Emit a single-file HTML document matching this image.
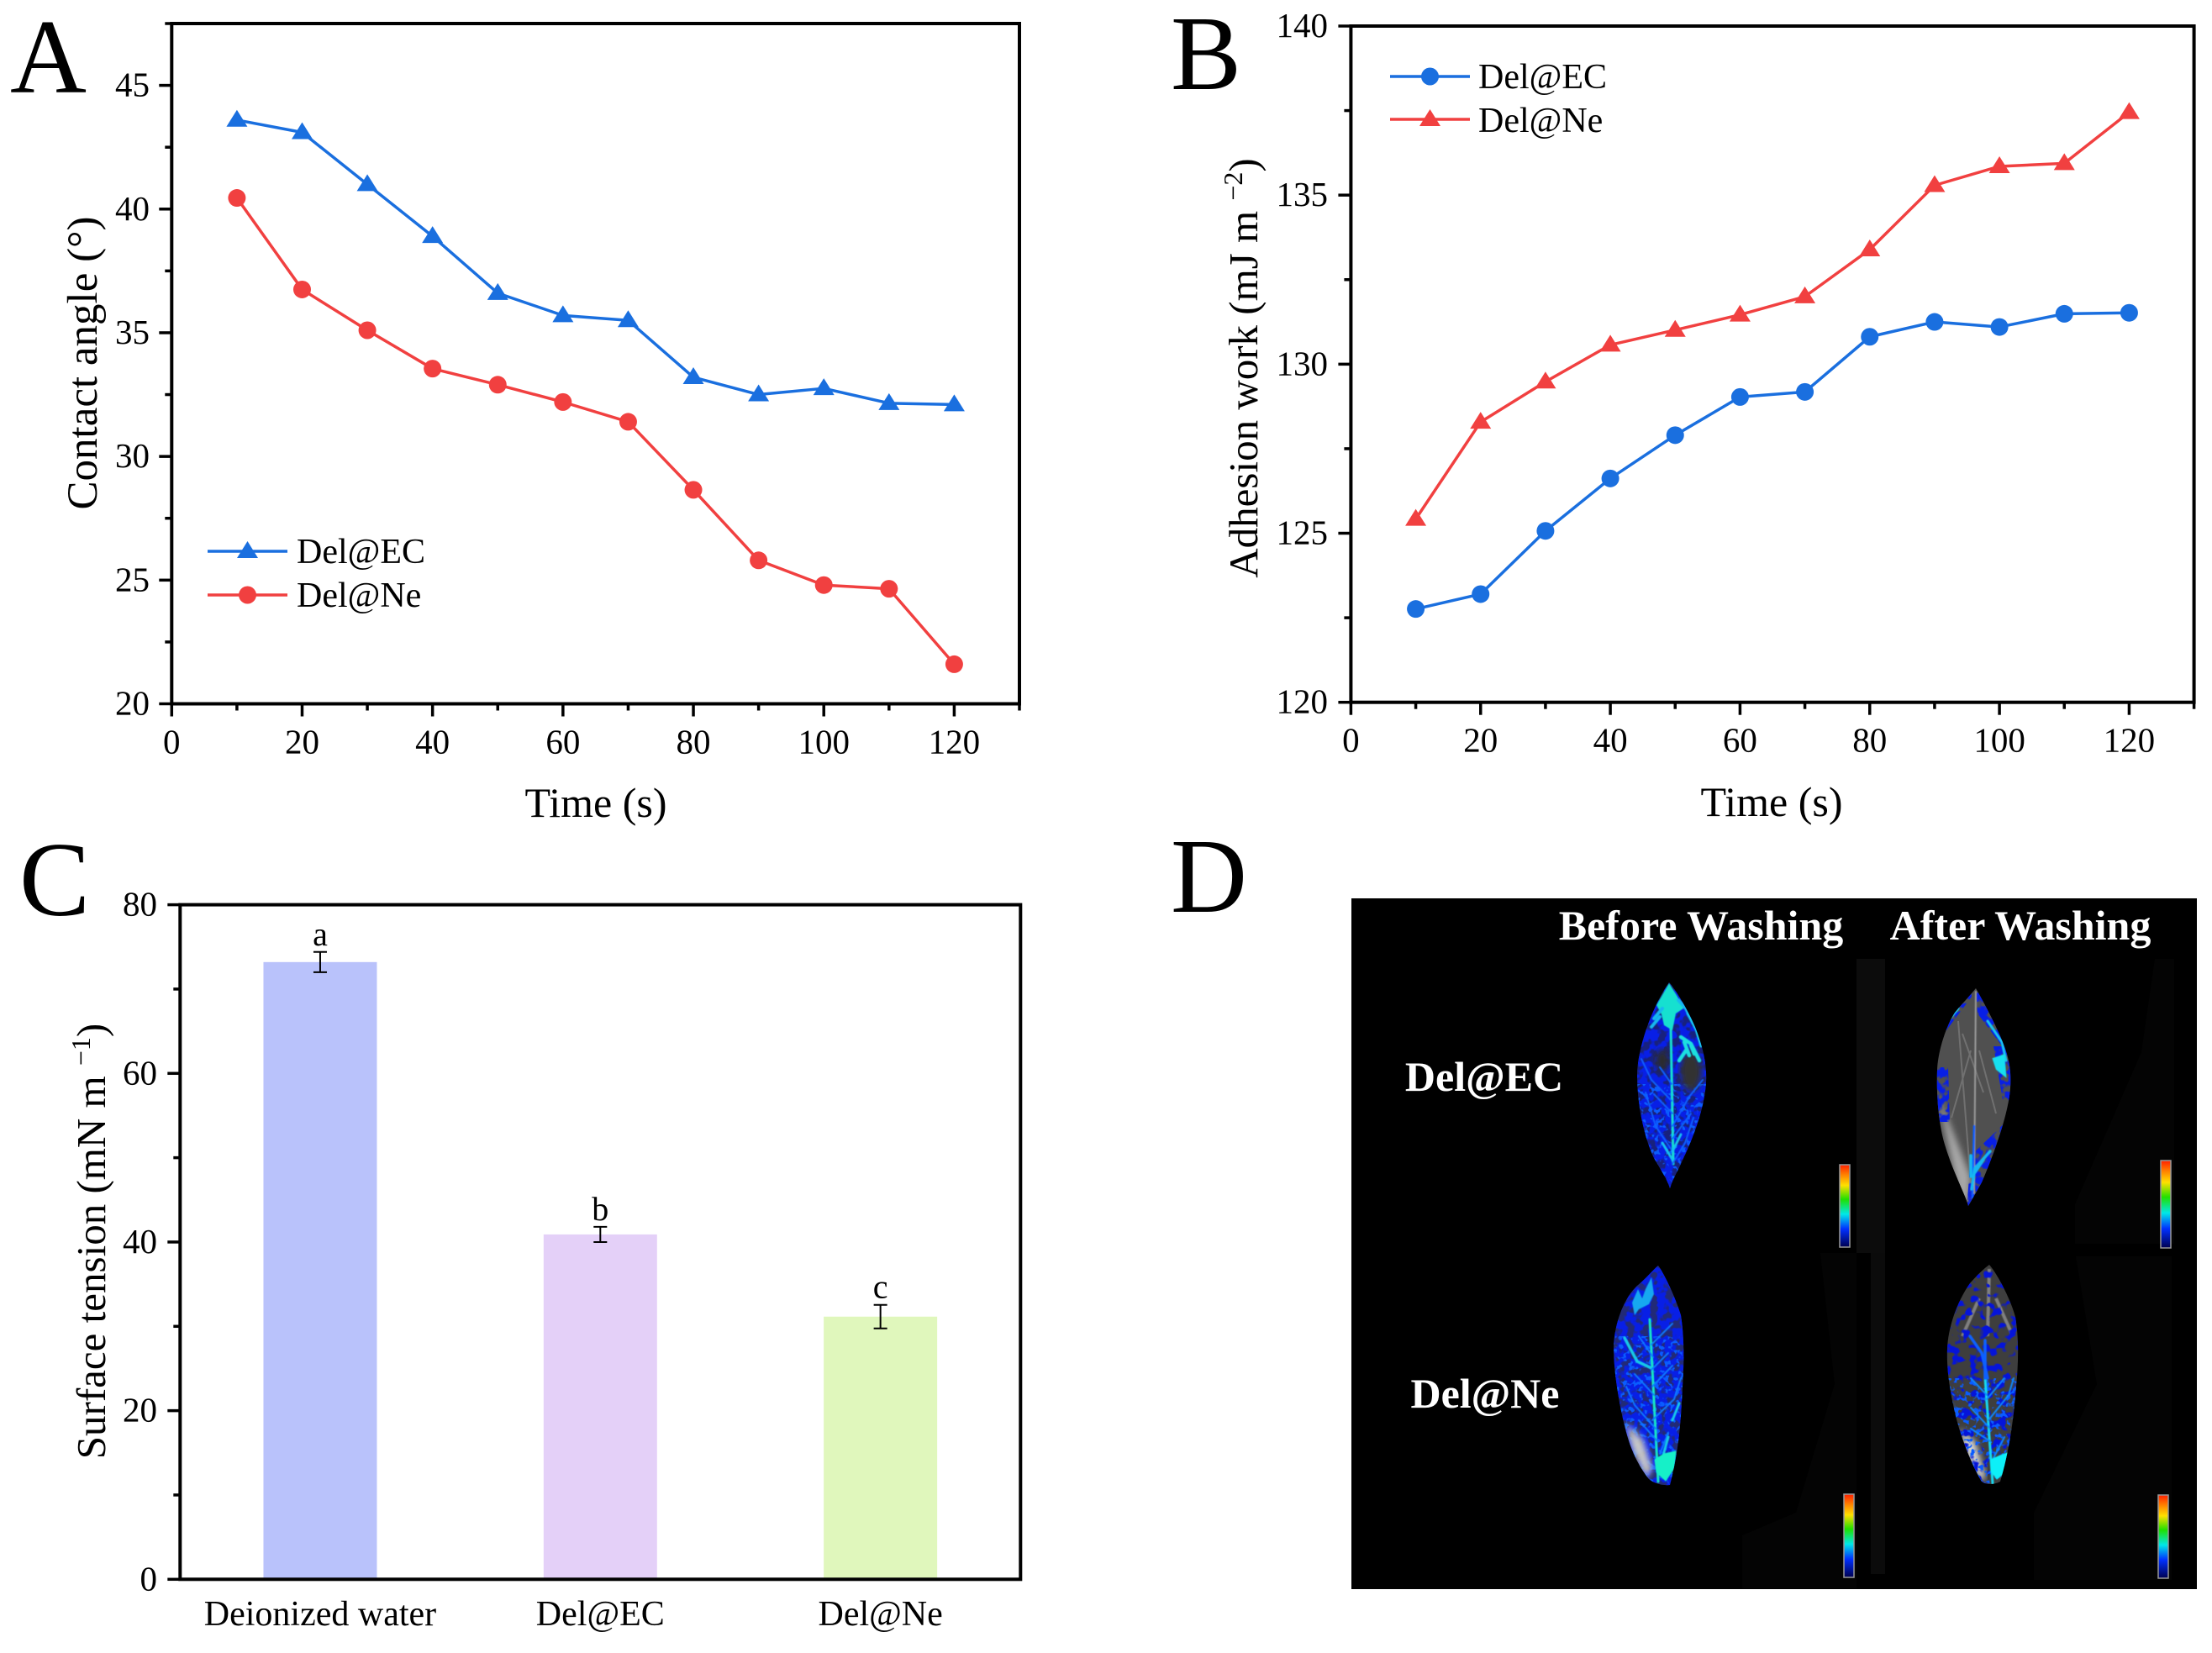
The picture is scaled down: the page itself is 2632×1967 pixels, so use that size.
<!DOCTYPE html>
<html lang="en">
<head>
<meta charset="utf-8">
<title>Contact angle, adhesion work, surface tension and leaf imaging</title>
<style>
html,body{margin:0;padding:0;background:#fff;}
svg{display:block;}
text{font-family:"Liberation Serif",serif;fill:#000;}
.w{fill:#fff;font-weight:bold;font-size:50px;text-anchor:middle;}
</style>
</head>
<body>
<svg id="fig" xmlns="http://www.w3.org/2000/svg" width="2632" height="1967" viewBox="0 0 2632 1967">
<defs>
<linearGradient id="cbar" x1="0" y1="0" x2="0" y2="1">
<stop offset="0" stop-color="#ff2000"/><stop offset=".12" stop-color="#ff8000"/><stop offset=".25" stop-color="#ffe000"/><stop offset=".42" stop-color="#20e000"/><stop offset=".6" stop-color="#00e8e8"/><stop offset=".78" stop-color="#0030ff"/><stop offset="1" stop-color="#000050"/>
</linearGradient>
<filter id="noise" x="0" y="0" width="100%" height="100%" color-interpolation-filters="sRGB">
<feTurbulence type="fractalNoise" baseFrequency="0.11" numOctaves="2" seed="4"/>
<feColorMatrix type="matrix" values="0 0 0 0 0.03  0 0 0 0 0.12  0 0 0 0 0.9  7 0 0 0 -2.7"/>
</filter>
<filter id="noiseThin" x="0" y="0" width="100%" height="100%" color-interpolation-filters="sRGB">
<feTurbulence type="fractalNoise" baseFrequency="0.09" numOctaves="2" seed="11"/>
<feColorMatrix type="matrix" values="0 0 0 0 0.02  0 0 0 0 0.08  0 0 0 0 0.85  9 0 0 0 -4.7"/>
</filter>
<filter id="noiseBright" x="0" y="0" width="100%" height="100%" color-interpolation-filters="sRGB">
<feTurbulence type="fractalNoise" baseFrequency="0.16" numOctaves="2" seed="7"/>
<feColorMatrix type="matrix" values="0 0 0 0 0.04  0 0 0 0 0.36  0 0 0 0 1  9 0 0 0 -5"/>
</filter>
<filter id="soft"><feGaussianBlur stdDeviation="4"/></filter>
<filter id="soft1"><feGaussianBlur stdDeviation="0.6"/></filter>
<clipPath id="leaf1"><path d="M1986,1169 C1996,1180 2014,1212 2020,1230 C2027,1250 2031,1268 2030,1288 C2028,1322 2012,1360 2000,1385 C1995,1396 1990,1404 1987,1414 C1984,1404 1976,1392 1968,1378 C1955,1350 1948,1312 1948,1278 C1949,1245 1966,1198 1986,1169 Z"/></clipPath>
<clipPath id="leaf2"><path d="M2351,1176 C2360,1192 2378,1225 2386,1248 C2392,1265 2393,1280 2392,1295 C2390,1325 2372,1375 2358,1407 C2352,1418 2346,1428 2342,1435 C2340,1425 2324,1395 2314,1362 C2306,1335 2304,1300 2305,1273 C2306,1250 2316,1220 2326,1205 C2334,1195 2344,1185 2351,1176 Z"/></clipPath>
<clipPath id="leaf3"><path d="M1973,1506 C1980,1515 1994,1545 2000,1565 C2004,1590 2004,1620 2002,1650 C2000,1690 1998,1725 1987,1767 C1978,1768 1968,1765 1962,1760 C1950,1745 1940,1725 1934,1700 C1926,1670 1920,1630 1920,1603 C1921,1575 1932,1545 1948,1530 C1958,1522 1966,1512 1973,1506 Z"/></clipPath>
<clipPath id="leaf4"><path d="M2367,1505 C2376,1515 2392,1545 2398,1567 C2402,1590 2402,1620 2399,1650 C2396,1690 2390,1730 2380,1763 C2372,1767 2364,1767 2358,1763 C2350,1750 2336,1720 2327,1685 C2320,1655 2316,1630 2317,1605 C2318,1580 2328,1550 2344,1527 C2352,1518 2360,1510 2367,1505 Z"/></clipPath>
<clipPath id="leaf2a"><path d="M2300,1270 h18 l2,65 l-20,0 Z M2345,1375 L2392,1330 L2375,1380 L2340,1440 Z M2372,1245 h24 v70 h-12 Z M2351,1176 l40,70 l-8,0 l-30,-40 Z M2345,1176 l-35,50 l6,0 l30,-40 Z"/></clipPath>
</defs>

<rect x="0" y="0" width="2632" height="1967" fill="#fff"/>

<g id="panel-a"></g>
<g id="panel-b"></g>
<g id="panel-c"></g>

<text x="12" y="110" font-size="126">A</text>
<text x="1393" y="106" font-size="126">B</text>
<text x="23" y="1089" font-size="126">C</text>
<text x="1393" y="1085" font-size="126">D</text>

<g>
<rect x="1608" y="1069" width="1006" height="822" fill="#000"/>
<g>
<rect x="2209" y="1141" width="34" height="350" fill="#0c0c0c"/>
<rect x="2226" y="1491" width="17" height="382" fill="#0b0b0b"/>
<polygon points="2166,1491 2209,1491 2209,1890 2073,1890 2073,1827 2137,1800 2183,1647" fill="#040404"/>
<polygon points="2564,1141 2587,1141 2587,1480 2469,1480 2469,1433 2548,1252" fill="#040404"/>
<polygon points="2470,1495 2584,1495 2584,1880 2420,1880 2420,1800 2495,1647" fill="#040404"/>
</g>

<g clip-path="url(#leaf1)">
<rect x="1940" y="1160" width="100" height="260" fill="#2e2e2e"/>
<rect x="1940" y="1160" width="100" height="260" fill="#0718c0" opacity=".55"/>
<rect x="1940" y="1160" width="100" height="260" filter="url(#noise)"/>
<rect x="1940" y="1290" width="100" height="130" filter="url(#noiseBright)"/>
<ellipse cx="2012" cy="1275" rx="13" ry="24" fill="#333" filter="url(#soft)"/>
<ellipse cx="1978" cy="1262" rx="9" ry="14" fill="#2a2a2a" filter="url(#soft)"/>
<g filter="url(#soft1)" fill="none" stroke-linecap="round">
<path d="M1986,1170 L1996,1186 L2003,1200 L1994,1206 L1990,1226 L1980,1220 L1977,1207 L1971,1196 Z" fill="#16e0d0"/>
<path d="M1997,1190 L2006,1200 L2012,1212 M1975,1210 L1965,1222 M1978,1200 L1968,1212" stroke="#12b8f0" stroke-width="4"/>
<path d="M2008,1206 L2018,1225 L2024,1245" stroke="#12c8f0" stroke-width="3"/>
<path d="M2000,1234 L2012,1242 L2022,1262 M2006,1250 L1998,1262 M2012,1244 L2016,1254 M2004,1240 L2010,1256" stroke="#1adfe0" stroke-width="4.5"/>
<path d="M1988,1222 L1991,1385" stroke="#16e0d0" stroke-width="3"/>
<path d="M1990,1385 L2005,1360 L2015,1330 M1990,1370 L1970,1340 L1958,1300 M1990,1340 L2010,1305 L2026,1285 M1989,1310 L1965,1285 L1953,1260 M1989,1290 L1975,1270 M1990,1355 L2012,1325 M1990,1325 L1968,1302" stroke="#0f60ff" stroke-width="2"/>
<path d="M1990,1380 L1978,1360 M1990,1370 L2000,1350" stroke="#18c0f0" stroke-width="3"/>
</g>
</g>

<g clip-path="url(#leaf2)">
<rect x="2300" y="1170" width="100" height="270" fill="#505050"/>
<path d="M2305,1300 L2330,1420 L2342,1435 L2345,1400 Z" fill="#a8a8a8" filter="url(#soft)"/>
<path d="M2330,1215 L2344,1395 M2345,1250 L2322,1330 M2355,1250 L2375,1325 M2335,1230 L2360,1300" stroke="#707070" stroke-width="2" fill="none"/>
<rect x="2300" y="1170" width="100" height="270" filter="url(#noise)" clip-path="url(#leaf2a)"/>
<g filter="url(#soft1)" fill="none" stroke-linecap="round">
<path d="M2351,1180 L2349,1420" stroke="#9a9a9a" stroke-width="2"/>
<path d="M2349,1340 L2347,1425" stroke="#1060ff" stroke-width="2.5"/>
<path d="M2312,1222 L2330,1200" stroke="#18c8f0" stroke-width="3"/>
<path d="M2365,1215 L2382,1240 L2387,1262" stroke="#18c8f0" stroke-width="3"/>
<path d="M2372,1260 L2384,1256 L2386,1280 L2376,1272 Z" fill="#18e0f0" stroke="#18e0f0" stroke-width="2.5"/>
<path d="M2346,1415 L2350,1390 L2368,1370 M2350,1395 L2360,1380 M2345,1400 L2345,1375" stroke="#18b8f0" stroke-width="3.5"/>
</g>
</g>

<g clip-path="url(#leaf3)">
<rect x="1915" y="1500" width="95" height="275" fill="#3a3a3a"/>
<rect x="1915" y="1500" width="95" height="275" fill="#0718c0" opacity=".45"/>
<rect x="1915" y="1500" width="95" height="275" filter="url(#noise)"/>
<rect x="1915" y="1590" width="95" height="180" filter="url(#noiseBright)"/>
<polygon points="1934,1693 1955,1713 1966,1747 1959,1760 1941,1723" fill="#c8c8c8" filter="url(#soft)"/>
<g filter="url(#soft1)" fill="none" stroke-linecap="round">
<path d="M1949,1534 L1954,1545 L1958,1534 L1965,1520 L1968,1540 L1962,1552 L1950,1558 L1945,1565 L1942,1550 Z" fill="#14a8f0"/>
<path d="M1963,1570 L1973,1763" stroke="#14e6c8" stroke-width="3"/>
<path d="M1933,1592 L1948,1620 L1965,1628" stroke="#14c8e8" stroke-width="3.5"/>
<path d="M1966,1650 L1990,1625 M1966,1690 L1992,1665 L2000,1640 M1968,1660 L1945,1635 M1970,1700 L1945,1672 L1935,1650 M1967,1615 L1950,1590 M1965,1600 L1990,1575 M1975,1730 L1985,1705 M1965,1630 L1985,1610 M1972,1715 L1950,1690" stroke="#0f78ff" stroke-width="2"/>
<path d="M1978,1735 L1985,1710 M1990,1690 L1998,1670" stroke="#12c8e8" stroke-width="3"/>
<path d="M1969,1737 L1980,1730 L1994,1727 L1992,1747 L1982,1762 L1971,1752 Z" fill="#14f0c8" stroke="#14f0c8"/>
</g>
</g>

<g clip-path="url(#leaf4)">
<rect x="2310" y="1500" width="100" height="275" fill="#3e3e3e"/>
<path d="M2367,1510 L2365,1590 M2355,1545 L2335,1590 M2375,1545 L2395,1590" stroke="#808080" stroke-width="4" fill="none" filter="url(#soft1)"/>
<polygon points="2332,1700 2350,1715 2362,1755 2358,1765 2339,1730" fill="#d8d8d8" filter="url(#soft)"/>
<rect x="2310" y="1500" width="100" height="275" filter="url(#noiseThin)"/>
<rect x="2310" y="1640" width="100" height="130" filter="url(#noiseBright)"/>
<g filter="url(#soft1)" fill="none" stroke-linecap="round">
<path d="M2362,1640 L2371,1765" stroke="#12d8f0" stroke-width="3"/>
<path d="M2362,1595 L2362,1640 M2365,1640 L2358,1610 L2344,1590" stroke="#1060ff" stroke-width="3.5"/>
<path d="M2366,1690 L2390,1660 L2396,1640 M2368,1700 L2345,1675 M2364,1660 L2345,1640 M2364,1665 L2385,1640 M2372,1735 L2385,1710 M2368,1715 L2345,1700" stroke="#0f88ff" stroke-width="2"/>
<path d="M2369,1737 L2380,1732 L2391,1728 L2388,1750 L2376,1760 L2369,1750 Z" fill="#10f0f8" stroke="#10f0f8"/>
</g>
</g>

<g>
<rect x="2189" y="1386" width="12" height="98" fill="url(#cbar)" stroke="#999" stroke-width="1.5"/>
<rect x="2571" y="1381" width="12" height="104" fill="url(#cbar)" stroke="#999" stroke-width="1.5"/>
<rect x="2194" y="1778" width="12" height="99" fill="url(#cbar)" stroke="#999" stroke-width="1.5"/>
<rect x="2568" y="1779" width="12" height="99" fill="url(#cbar)" stroke="#999" stroke-width="1.5"/>
</g>

<text class="w" x="2024" y="1118">Before Washing</text>
<text class="w" x="2404" y="1118">After Washing</text>
<text class="w" x="1766" y="1298">Del@EC</text>
<text class="w" x="1767" y="1675">Del@Ne</text>
</g>
</svg>

<script>
// ---- chart data ----
const timeValues = [10,20,30,40,50,60,70,80,90,100,110,120];
const contactAngleEC = [43.6,43.1,41.0,38.9,36.6,35.7,35.5,33.2,32.5,32.75,32.15,32.1];
const contactAngleNe = [40.45,36.75,35.1,33.55,32.9,32.2,31.4,28.65,25.8,24.8,24.65,21.6];
const adhesionEC = [122.76,123.2,125.07,126.62,127.9,129.03,129.18,130.81,131.25,131.1,131.49,131.52];
const adhesionNe = [125.42,128.29,129.48,130.57,131.01,131.46,132.0,133.39,135.29,135.85,135.94,137.45];
const timeMajorTicks = [0,20,40,60,80,100,120];
const timeMinorTicks = [10,30,50,70,90,110,130];
const angleMajorTicks = [20,25,30,35,40,45];
const angleMinorTicks = [22.5,27.5,32.5,37.5,42.5,47.5];
const workMajorTicks = [120,125,130,135,140];
const workMinorTicks = [122.5,127.5,132.5,137.5];
const barCategories = ["Deionized water","Del@EC","Del@Ne"];
const barValues = [73.2,40.9,31.15];
const barErrors = [1.2,0.9,1.4];
const barLetters = ["a","b","c"];
const tensionMajorTicks = [0,20,40,60,80];
const tensionMinorTicks = [10,30,50,70];

const NS = "http://www.w3.org/2000/svg";
const BLUE = "#1a6fdf";
const RED = "#f14040";

function make(parent, tag, attrs, txt) {
  const el = document.createElementNS(NS, tag);
  for (const k in attrs) el.setAttribute(k, attrs[k]);
  if (txt !== undefined) el.textContent = txt;
  parent.appendChild(el);
  return el;
}
function linear(d0, d1, r0, r1) {
  return v => r0 + (v - d0) * (r1 - r0) / (d1 - d0);
}

function drawFrame(g, L, R, T, B, sw) {
  const frame = make(g, "rect", {x:L, y:T, width:R-L, height:B-T, fill:"none", stroke:"#000", "stroke-width":sw});
  
  
}
function drawYAxis(g, y, L, major, minor, labelRight) {
  major.forEach(v => {
    const t = make(g, "line", {x1:L-15, x2:L, y1:y(v), y2:y(v), stroke:"#000", "stroke-width":3.5});
    
    
    const lab = make(g, "text", {x:labelRight, y:y(v)+13, "font-size":41, "text-anchor":"end"}, String(v));
    
    
  });
  minor.forEach(v => {
    const t = make(g, "line", {x1:L-8, x2:L, y1:y(v), y2:y(v), stroke:"#000", "stroke-width":3.5});
    
    
  });
}
function drawXAxis(g, x, B, major, minor) {
  major.forEach(v => {
    const t = make(g, "line", {x1:x(v), x2:x(v), y1:B, y2:B+15, stroke:"#000", "stroke-width":3.5});
    
    
    const lab = make(g, "text", {x:x(v), y:B+59, "font-size":41, "text-anchor":"middle"}, String(v));
    
    
  });
  minor.forEach(v => {
    const t = make(g, "line", {x1:x(v), x2:x(v), y1:B, y2:B+8, stroke:"#000", "stroke-width":3.5});
    
    
  });
}
function circleMark(g, cx, cy, color) {
  return make(g, "circle", {cx:cx, cy:cy, r:10.5, fill:color});
}
function triangleMark(g, cx, cy, color) {
  return make(g, "polygon", {points:(cx)+","+(cy-12)+" "+(cx+12.5)+","+(cy+8)+" "+(cx-12.5)+","+(cy+8), fill:color});
}
function drawSeries(g, xs, ys, x, y, color, marker) {
  const d = xs.map((v,i) => (i ? "L" : "M") + x(v) + "," + y(ys[i])).join(" ");
  const line = make(g, "path", {d:d, fill:"none", stroke:color, "stroke-width":3.5, "stroke-linejoin":"round"});
  
  
  xs.forEach((v,i) => {
    const m = marker(g, x(v), y(ys[i]), color);
    
    
  });
}
function drawLegendRow(g, x1, x2, ly, tx, ty, color, marker, label) {
  const line = make(g, "line", {x1:x1, x2:x2, y1:ly, y2:ly, stroke:color, "stroke-width":3.5});
  
  
  const m = marker(g, (x1+x2)/2, ly, color);
  
  
  const t = make(g, "text", {x:tx, y:ty, "font-size":42}, label);
  
  
}

// ---- Panel A ----
(function () {
  const g = document.getElementById("panel-a");
  const L = 204.3, R = 1213, T = 28, B = 837.5;
  const x = linear(0, 130, L, R), y = linear(20, 47.5, B, T);
  drawYAxis(g, y, L, angleMajorTicks, angleMinorTicks, 178);
  drawXAxis(g, x, B, timeMajorTicks, timeMinorTicks);
  drawSeries(g, timeValues, contactAngleNe, x, y, RED, circleMark);
  drawSeries(g, timeValues, contactAngleEC, x, y, BLUE, triangleMark);
  drawFrame(g, L, R, T, B, 4);
  drawLegendRow(g, 247, 342, 656, 353, 670, BLUE, triangleMark, "Del@EC");
  drawLegendRow(g, 247, 342, 708, 353, 722, RED, circleMark, "Del@Ne");
  const yt = make(g, "text", {transform:"translate(115,432) rotate(-90)", "font-size":51, "text-anchor":"middle"}, "Contact angle (°)");
  
  
  const xt = make(g, "text", {x:709, y:972, "font-size":50, "text-anchor":"middle"}, "Time (s)");
  
  
})();

// ---- Panel B ----
(function () {
  const g = document.getElementById("panel-b");
  const L = 1607.4, R = 2610.6, T = 31, B = 835.7;
  const x = linear(0, 130, L, R), y = linear(120, 140, B, T);
  drawYAxis(g, y, L, workMajorTicks, workMinorTicks, 1580);
  drawXAxis(g, x, B, timeMajorTicks, timeMinorTicks);
  drawSeries(g, timeValues, adhesionEC, x, y, BLUE, circleMark);
  drawSeries(g, timeValues, adhesionNe, x, y, RED, triangleMark);
  drawFrame(g, L, R, T, B, 4);
  drawLegendRow(g, 1654, 1749, 91, 1759, 105, BLUE, circleMark, "Del@EC");
  drawLegendRow(g, 1654, 1749, 142, 1759, 157, RED, triangleMark, "Del@Ne");
  const yt = make(g, "text", {transform:"translate(1496,438) rotate(-90)", "font-size":49, "text-anchor":"middle"});
  
  
  yt.appendChild(document.createTextNode("Adhesion work (mJ m "));
  make(yt, "tspan", {dy:-18, "font-size":32}, "−2");
  make(yt, "tspan", {dy:18}, ")");
  const xt = make(g, "text", {x:2108, y:971, "font-size":50, "text-anchor":"middle"}, "Time (s)");
  
  
})();

// ---- Panel C ----
(function () {
  const g = document.getElementById("panel-c");
  const L = 214.3, R = 1214.3, T = 1076.6, B = 1879.3;
  const x = linear(0.5, 3.5, L, R), y = linear(0, 80, B, T);
  const bandWidth = 135;
  const barColors = ["#b9c2fb", "#e4d0f8", "#e0f7bc"];
  barCategories.forEach((c, i) => {
    const cx = x(i + 1);
    const bar = make(g, "rect", {x:cx - bandWidth/2, y:y(barValues[i]), width:bandWidth, height:y(0) - y(barValues[i]), fill:barColors[i]});
    
    
    const hi = y(barValues[i] + barErrors[i]), lo = y(barValues[i] - barErrors[i]);
    const err = make(g, "path", {d:"M"+(cx-8)+","+hi+" H"+(cx+8)+" M"+cx+","+hi+" V"+lo+" M"+(cx-8)+","+lo+" H"+(cx+8), fill:"none", stroke:"#000", "stroke-width":2});
    
    
    const sig = make(g, "text", {x:cx, y:hi - 8, "font-size":40, "text-anchor":"middle"}, barLetters[i]);
    
    
    const cat = make(g, "text", {x:cx, y:1934, "font-size":42, "text-anchor":"middle"}, c);
    
    
  });
  drawYAxis(g, y, L, tensionMajorTicks, tensionMinorTicks, 187);
  drawFrame(g, L, R, T, B, 4);
  const yt = make(g, "text", {transform:"translate(125,1477) rotate(-90)", "font-size":49, "text-anchor":"middle"});
  
  
  yt.appendChild(document.createTextNode("Surface tension (mN m "));
  make(yt, "tspan", {dy:-18, "font-size":32}, "−1");
  make(yt, "tspan", {dy:18}, ")");
})();
</script>
</body>
</html>
